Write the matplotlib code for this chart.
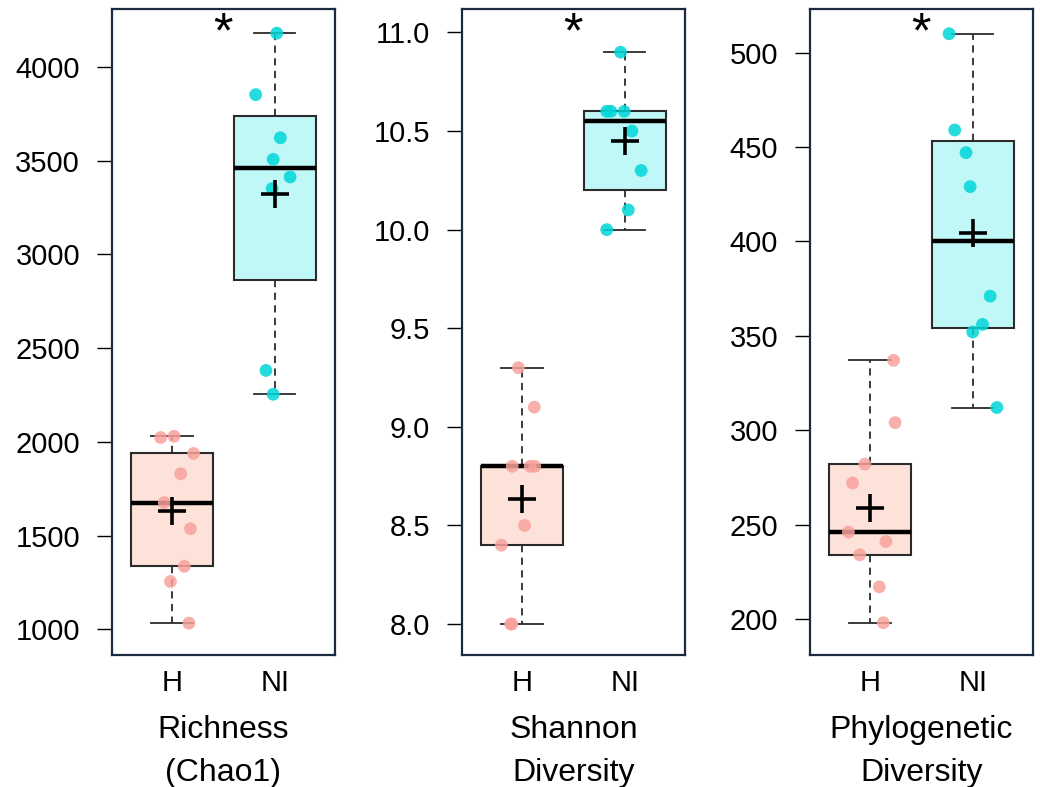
import numpy as np
import matplotlib
matplotlib.use("Agg")
import matplotlib.pyplot as plt
import matplotlib.transforms as mtransforms
from matplotlib import font_manager

# ---------------- data ----------------
groups = ["H", "NI"]
panel_labels = ["Richness\n(Chao1)", "Shannon\nDiversity", "Phylogenetic\nDiversity"]

chao1_H = [2023, 2030, 1938, 1830, 1676, 1537, 1336, 1255, 1033]
chao1_NI = [4180, 3852, 3622, 3507, 3413, 3351, 2381, 2254]
shannon_H = [9.3, 9.1, 8.8, 8.8, 8.8, 8.5, 8.4, 8.0, 8.0]
shannon_NI = [10.9, 10.6, 10.6, 10.6, 10.5, 10.3, 10.1, 10.0]
pd_H = [337, 304, 282, 272, 246, 241, 234, 217, 198]
pd_NI = [510, 459, 447, 429, 371, 356, 352, 312]

yticks_chao1 = [1000, 1500, 2000, 2500, 3000, 3500, 4000]
yticks_shannon = [8.0, 8.5, 9.0, 9.5, 10.0, 10.5, 11.0]
yticks_pd = [200, 250, 300, 350, 400, 450, 500]
yticklabels_shannon = ["8.0", "8.5", "9.0", "9.5", "10.0", "10.5", "11.0"]

# jitter offsets (positions only)
jit_chao1_H = [-0.11, 0.02, 0.21, 0.085, -0.075, 0.18, 0.12, -0.015, 0.165]
jit_chao1_NI = [0.02, -0.185, 0.055, -0.015, 0.15, -0.025, -0.085, -0.015]
jit_shannon_H = [-0.035, 0.12, -0.095, 0.08, 0.125, 0.025, -0.2, -0.11, -0.10]
jit_shannon_NI = [-0.04, -0.175, -0.135, -0.005, 0.07, 0.16, 0.035, -0.175]
jit_pd_H = [0.23, 0.245, -0.05, -0.17, -0.21, 0.155, -0.1, 0.09, 0.13]
jit_pd_NI = [-0.23, -0.175, -0.065, -0.025, 0.17, 0.095, 0.0, 0.235]

# ---------------- style ----------------
fill_colors = ["#FDE2DA", "#C0F8F8"]
point_colors = ["#F8A29B", "#00D5D8"]
frame_color = "#1B2A3F"
box_edge = "#2b2b2b"

panels = [
    (chao1_H, chao1_NI, jit_chao1_H, jit_chao1_NI, yticks_chao1, None, (863, 4309)),
    (shannon_H, shannon_NI, jit_shannon_H, jit_shannon_NI, yticks_shannon, yticklabels_shannon, (7.843, 11.119)),
    (pd_H, pd_NI, jit_pd_H, jit_pd_NI, yticks_pd, None, (180.9, 523.1)),
]


def fivenum(x):
    x = np.sort(np.asarray(x, dtype=float))
    n = len(x)
    n4 = np.floor((n + 3) / 2) / 2
    d = np.array([1, n4, (n + 1) / 2, n + 1 - n4, n]) - 1
    return 0.5 * (x[np.floor(d).astype(int)] + x[np.ceil(d).astype(int)])


def stats(x):
    x = np.asarray(x, dtype=float)
    f = fivenum(x)
    iqr = f[3] - f[1]
    lo = x[x >= f[1] - 1.5 * iqr].min()
    hi = x[x <= f[3] + 1.5 * iqr].max()
    return dict(med=f[2], q1=f[1], q3=f[3], whislo=lo, whishi=hi,
                mean=x.mean(), fliers=[])


installed = {f.name for f in font_manager.fontManager.ttflist}
tick_font = ["Liberation Sans", "DejaVu Sans"]
if "Liberation Sans Narrow" in installed:
    label_font = ["Liberation Sans Narrow", "DejaVu Sans"]
    lab_size, grp_size = 26, 23
else:
    label_font = ["Liberation Sans", "DejaVu Sans"]
    lab_size, grp_size = 23, 21

W, H = 1040, 787
fig = plt.figure(figsize=(W / 100, H / 100), dpi=100)
lefts = [112, 462, 810]
ax_w = 223
ax_top, ax_bot = 9, 655

for i, (hv, nv, hj, nj, yt, ytl, ylim) in enumerate(panels):
    ax = fig.add_axes([lefts[i] / W, 1 - ax_bot / H, ax_w / W, (ax_bot - ax_top) / H])
    st = [stats(hv), stats(nv)]
    bp = ax.bxp(st, positions=[1, 2], widths=0.8, patch_artist=True,
                showmeans=False, showfliers=False,
                boxprops=dict(edgecolor=box_edge, linewidth=1.5),
                medianprops=dict(color="black", linewidth=3.2, solid_capstyle="butt"),
                whiskerprops=dict(color=box_edge, linewidth=1.3, linestyle=(0, (4, 3))),
                capprops=dict(color=box_edge, linewidth=1.3),
                capwidths=0.4, zorder=2)
    for patch, fc in zip(bp["boxes"], fill_colors):
        patch.set_facecolor(fc)

    for k, (vals, jit) in enumerate([(hv, hj), (nv, nj)]):
        xs = np.full(len(vals), k + 1.0) + np.asarray(jit)
        ax.scatter(xs, vals, s=85, color=point_colors[k], alpha=0.85,
                   edgecolors="none", zorder=3)
        ax.plot([k + 1], [np.mean(vals)], marker="+", color="black",
                markersize=20, markeredgewidth=2.6, zorder=4)

    ax.set_xlim(0.416, 2.587)
    ax.set_ylim(*ylim)
    ax.set_yticks(yt)
    if ytl is not None:
        ax.set_yticklabels(ytl)
    ax.set_xticks([1, 2])
    ax.set_xticklabels(groups)
    ax.tick_params(axis="y", length=11, width=1.0, pad=12, labelsize=21,
                   color="black")
    ax.tick_params(axis="x", length=0, pad=10, labelsize=grp_size)
    for lab in ax.get_yticklabels():
        lab.set_family(tick_font)
    for lab in ax.get_xticklabels():
        lab.set_family(label_font)
    for sp in ax.spines.values():
        sp.set_color(frame_color)
        sp.set_linewidth(1.6)

    ax.set_xlabel(panel_labels[i], fontsize=lab_size, family=label_font,
                  labelpad=13, linespacing=1.55)

    trans = mtransforms.blended_transform_factory(ax.transData, ax.transAxes)
    ax.text(1.5, 0.996, "*", transform=trans, ha="center", va="top",
            fontsize=36, family=tick_font)

fig.savefig("out.png", dpi=100)
